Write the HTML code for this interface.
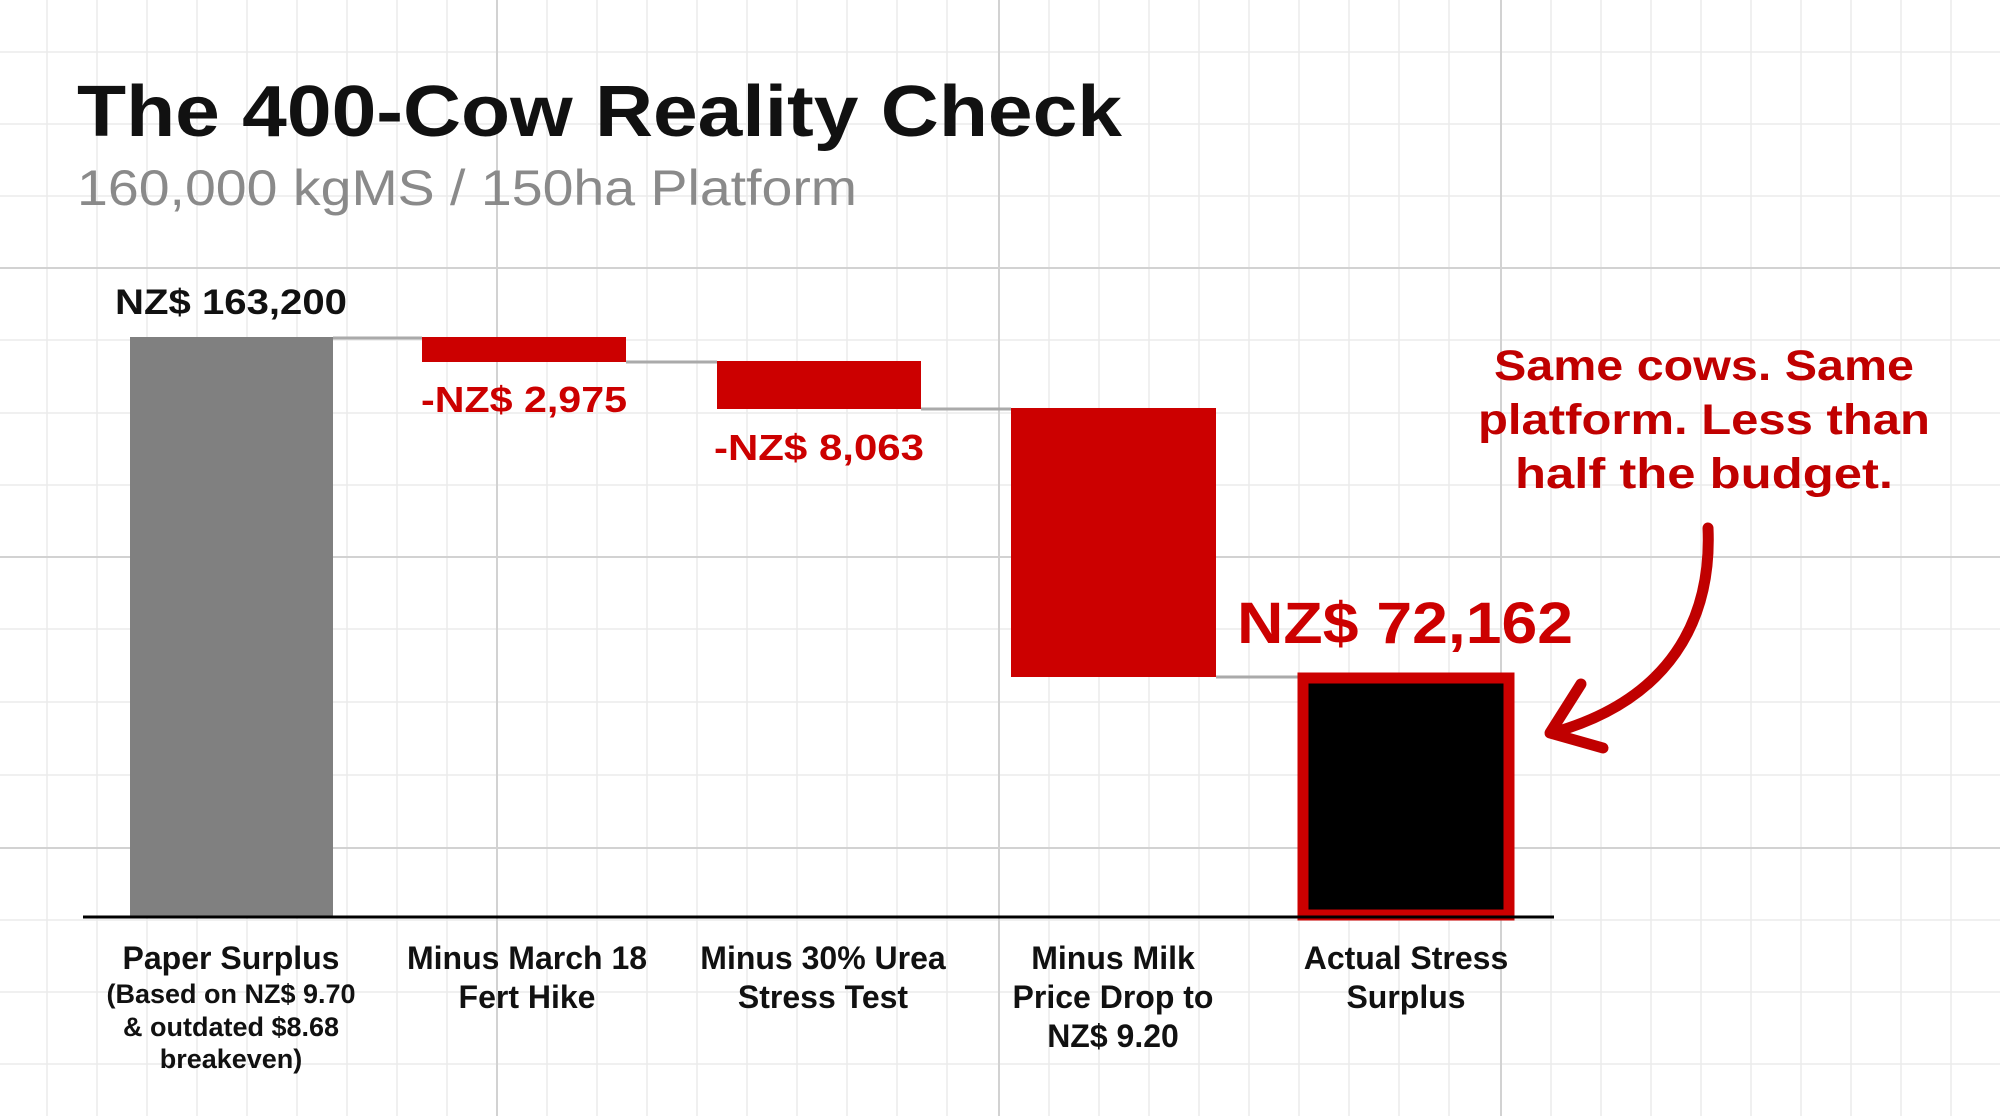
<!DOCTYPE html>
<html><head><meta charset="utf-8"><style>
html,body{margin:0;padding:0;background:#fff;}
svg{display:block;font-family:"Liberation Sans",Arial,sans-serif;}
</style></head><body>
<svg width="2000" height="1116" viewBox="0 0 2000 1116" xmlns="http://www.w3.org/2000/svg">
<rect width="2000" height="1116" fill="#fff"/>
<g stroke="#ebebeb" stroke-width="1.5">
<line x1="47" y1="0" x2="47" y2="1116"/><line x1="97" y1="0" x2="97" y2="1116"/><line x1="147" y1="0" x2="147" y2="1116"/><line x1="197" y1="0" x2="197" y2="1116"/><line x1="247" y1="0" x2="247" y2="1116"/><line x1="297" y1="0" x2="297" y2="1116"/><line x1="347" y1="0" x2="347" y2="1116"/><line x1="397" y1="0" x2="397" y2="1116"/><line x1="447" y1="0" x2="447" y2="1116"/><line x1="547" y1="0" x2="547" y2="1116"/><line x1="597" y1="0" x2="597" y2="1116"/><line x1="647" y1="0" x2="647" y2="1116"/><line x1="697" y1="0" x2="697" y2="1116"/><line x1="747" y1="0" x2="747" y2="1116"/><line x1="797" y1="0" x2="797" y2="1116"/><line x1="847" y1="0" x2="847" y2="1116"/><line x1="897" y1="0" x2="897" y2="1116"/><line x1="947" y1="0" x2="947" y2="1116"/><line x1="1049" y1="0" x2="1049" y2="1116"/><line x1="1099" y1="0" x2="1099" y2="1116"/><line x1="1149" y1="0" x2="1149" y2="1116"/><line x1="1199" y1="0" x2="1199" y2="1116"/><line x1="1249" y1="0" x2="1249" y2="1116"/><line x1="1299" y1="0" x2="1299" y2="1116"/><line x1="1349" y1="0" x2="1349" y2="1116"/><line x1="1399" y1="0" x2="1399" y2="1116"/><line x1="1449" y1="0" x2="1449" y2="1116"/><line x1="1551" y1="0" x2="1551" y2="1116"/><line x1="1601" y1="0" x2="1601" y2="1116"/><line x1="1651" y1="0" x2="1651" y2="1116"/><line x1="1701" y1="0" x2="1701" y2="1116"/><line x1="1751" y1="0" x2="1751" y2="1116"/><line x1="1801" y1="0" x2="1801" y2="1116"/><line x1="1851" y1="0" x2="1851" y2="1116"/><line x1="1901" y1="0" x2="1901" y2="1116"/><line x1="1951" y1="0" x2="1951" y2="1116"/>
<line x1="0" y1="52" x2="2000" y2="52"/><line x1="0" y1="124" x2="2000" y2="124"/><line x1="0" y1="196" x2="2000" y2="196"/><line x1="0" y1="340" x2="2000" y2="340"/><line x1="0" y1="413" x2="2000" y2="413"/><line x1="0" y1="485" x2="2000" y2="485"/><line x1="0" y1="629" x2="2000" y2="629"/><line x1="0" y1="702" x2="2000" y2="702"/><line x1="0" y1="775" x2="2000" y2="775"/><line x1="0" y1="920" x2="2000" y2="920"/><line x1="0" y1="992" x2="2000" y2="992"/><line x1="0" y1="1064" x2="2000" y2="1064"/>
</g>
<g stroke="#d2d2d2" stroke-width="2">
<line x1="497" y1="0" x2="497" y2="1116"/><line x1="999" y1="0" x2="999" y2="1116"/><line x1="1501" y1="0" x2="1501" y2="1116"/>
<line x1="0" y1="268" x2="2000" y2="268"/><line x1="0" y1="557" x2="2000" y2="557"/><line x1="0" y1="848" x2="2000" y2="848"/>
</g>
<text x="77" y="136" font-size="72" font-weight="bold" fill="#111" textLength="1045" lengthAdjust="spacingAndGlyphs">The 400-Cow Reality Check</text>
<text x="77" y="205" font-size="50" fill="#8a8a8a" textLength="780" lengthAdjust="spacingAndGlyphs">160,000 kgMS / 150ha Platform</text>
<g stroke="#aaa" stroke-width="3">
<line x1="333" y1="338" x2="422" y2="338"/><line x1="626" y1="362" x2="717" y2="362"/><line x1="921" y1="409" x2="1011" y2="409"/><line x1="1216" y1="677" x2="1300" y2="677"/>
</g>
<rect x="130" y="337" width="203" height="579" fill="#808080"/>
<rect x="422" y="337" width="204" height="25" fill="#cc0000"/>
<rect x="717" y="361" width="204" height="48" fill="#cc0000"/>
<rect x="1011" y="408" width="205" height="269" fill="#cc0000"/>
<rect x="1303" y="678" width="206" height="237" fill="#000" stroke="#cc0000" stroke-width="11"/>
<line x1="83" y1="917" x2="1554" y2="917" stroke="#000" stroke-width="3"/>
<text x="231" y="314" font-size="35" font-weight="bold" fill="#111" text-anchor="middle" textLength="232" lengthAdjust="spacingAndGlyphs">NZ$ 163,200</text>
<text x="524" y="412" font-size="36" font-weight="bold" fill="#cc0000" text-anchor="middle" textLength="206" lengthAdjust="spacingAndGlyphs">-NZ$ 2,975</text>
<text x="819" y="460" font-size="36" font-weight="bold" fill="#cc0000" text-anchor="middle" textLength="210" lengthAdjust="spacingAndGlyphs">-NZ$ 8,063</text>
<text x="1405" y="643" font-size="58" font-weight="bold" fill="#cc0000" text-anchor="middle" textLength="336" lengthAdjust="spacingAndGlyphs">NZ$ 72,162</text>
<g font-size="43" font-weight="bold" fill="#c00000" text-anchor="middle">
<text x="1704" y="380" textLength="420" lengthAdjust="spacingAndGlyphs">Same cows. Same</text>
<text x="1704" y="434" textLength="452" lengthAdjust="spacingAndGlyphs">platform. Less than</text>
<text x="1704" y="488" textLength="378" lengthAdjust="spacingAndGlyphs">half the budget.</text>
</g>
<g stroke="#c00000" stroke-width="11" fill="none" stroke-linecap="round" stroke-linejoin="round">
<path d="M1708 528 C1712 620 1670 700 1552 733"/>
<path d="M1581 684 L1550 733 L1603 748"/>
</g>
<g font-size="32" font-weight="bold" fill="#111" text-anchor="middle">
<text x="231" y="969">Paper Surplus</text>
<text x="527" y="969">Minus March 18</text>
<text x="527" y="1008">Fert Hike</text>
<text x="823" y="969">Minus 30% Urea</text>
<text x="823" y="1008">Stress Test</text>
<text x="1113" y="969">Minus Milk</text>
<text x="1113" y="1008">Price Drop to</text>
<text x="1113" y="1047">NZ$ 9.20</text>
<text x="1406" y="969">Actual Stress</text>
<text x="1406" y="1008">Surplus</text>
</g>
<g font-size="27" font-weight="bold" fill="#111" text-anchor="middle">
<text x="231" y="1003">(Based on NZ$ 9.70</text>
<text x="231" y="1036">&amp; outdated $8.68</text>
<text x="231" y="1068">breakeven)</text>
</g>
</svg>
</body></html>
